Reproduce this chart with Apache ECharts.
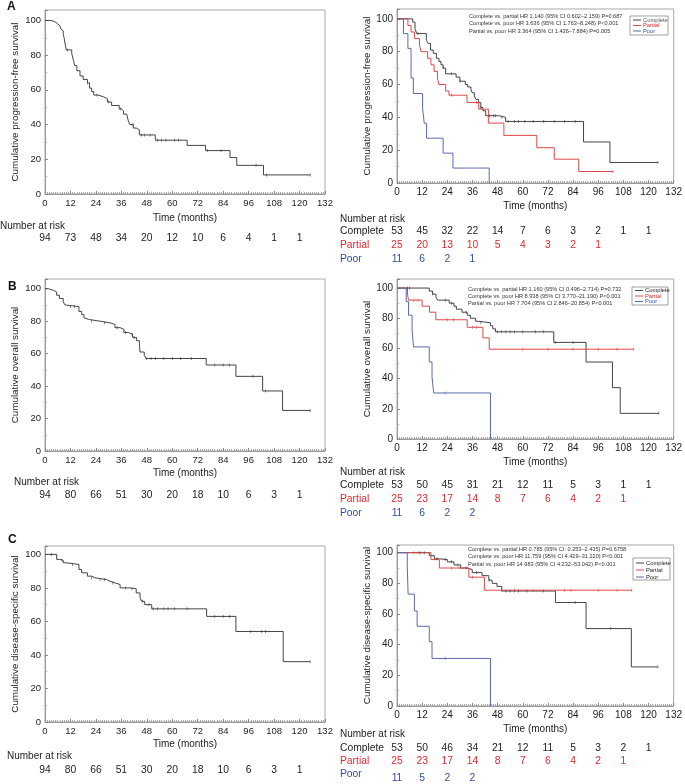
<!DOCTYPE html>
<html><head><meta charset="utf-8">
<script src="https://cdn.jsdelivr.net/npm/echarts@6/dist/echarts.min.js"></script>
<style>html,body{margin:0;padding:0;background:#fff}#c{width:685px;height:784px}</style>
</head><body><div id="c"></div>
<script>
// ---------------- DATA ----------------
const xTicks = [0,12,24,36,48,60,72,84,96,108,120,132];
const riskTimes = [0,12,24,36,48,60,72,84,96,108,120];

// Panel A (progression-free survival)
const pfsAll = [[0,100],[3,99],[5,98],[6,97],[7,96],[7.5,95],[8,94],[8.6,92],[9,90],[9.4,87],[10,83],[12.6,81],[13.4,77],[14,74],[15,71],[16.5,68],[18,66],[20,64],[21,61],[22,59],[23,57],[25,56],[27.5,55],[29.4,53],[31.4,51],[35,49],[36,48],[37,46],[38.5,45],[39.3,42],[40,40],[41.6,38],[43,37],[44.5,34],[52,31],[67,28],[75.7,25],[87.2,21],[90.4,16.5],[103,11],[125,11]];
const pfsAllCens = [10.5,20,24.5,30,35.5,41.5,45.5,47,49.5,53,55,57,61,63,76.5,83,99.5,104.5,125];
const pfsComp = [[0,100],[7.5,98],[8.6,94],[9.4,91],[14,87],[14.9,85],[16,81],[17.3,79],[18.8,76],[20,74],[21,72],[22,70],[23.2,66.5],[28.2,64.5],[30,62],[32.6,60],[33.7,58.5],[35.3,57],[35.8,55],[36.9,53],[37.6,51],[38.9,49],[40,46],[41,44],[42.3,41],[48.6,40],[51.8,37.5],[89,25],[101.6,12.5],[124.5,12.5]];
const pfsCompCens = [10,22,26,30,40,44,46,47,50,53,56,58,61,65,70,75,80,85,124.5];
const pfsPart = [[0,100],[5.2,96],[6.7,92],[8.3,88],[10.7,84],[11.5,80],[14.6,76],[16.2,72],[17.7,68],[19.3,64],[20,60],[23.2,56],[24.8,53.5],[33.4,49],[39,45],[43.6,36.5],[51,29],[66.7,21.5],[75,14.5],[86.7,7],[103,7]];
const pfsPartCens = [26,38,103];
const pfsPoor = [[0,100],[3.1,91],[5.2,82],[6.7,64],[7.8,54.5],[12.2,45.5],[13,36.4],[14.1,27.3],[22,18.2],[26.7,9.1],[44,0]];
const pfsPoorCens = [];

// Panel B (overall survival)
const osAll = [[0,100],[1.6,99],[4,98],[5.5,96],[6.8,94],[8.6,92],[9.4,90],[10,89],[16,86],[17.3,84],[18.4,82],[19.3,81],[21,80],[26,79],[30.6,78],[33,76],[35.4,75],[37.2,73],[39.3,72],[41.3,70],[43.2,68],[44.5,66],[44.8,61],[46.8,59],[47.6,57],[76,53],[90,46],[102.6,37],[112,25],[125,25]];
const osAllCens = [12,14,22,28,34,38,41,42,48,50,52,56,60,64,69,80,84,87,98,104,125];
const osComp = [[0,100],[15.4,98],[17,96],[18.6,94],[19.4,92],[24.9,90],[27.2,88],[28.3,86],[31,84],[33.5,82],[35,80],[37.5,78],[39,77],[44.6,75],[45.7,73],[47,71],[74.8,64],[90.2,51],[102.8,34],[106.5,17],[124.9,17]];
const osCompCens = [5,6,17,23,26,33,40,48,50,52,54,56,60,66,70,75.5,84,124.9];
const osPart = [[0,100],[5,96],[5.5,92],[12,88],[15.5,84],[18.5,79],[33.5,74],[41,67],[44,59.5],[112.8,59.5]];
const osPartCens = [8,10,24,27,36,38,60,72,84,96,105,112.8];
const osPoor = [[0,100],[4.4,91],[5.5,82],[7.2,72],[7.9,61],[15.4,51],[16.7,41],[17.5,30.5],[44.6,0]];
const osPoorCens = [23];

// Panel C (disease-specific survival)
const dssAll = [[0,100],[5.5,97],[7,96.5],[8.6,95],[10,94],[16,91],[17.3,89],[20,87],[22,86],[23.6,85],[29,84],[30.6,83],[33,82],[35.4,80],[40,79.5],[43,77],[44.8,74],[45.6,72],[47,70],[50.3,67.5],[76.2,63],[90,54],[112.3,36],[125,36]];
const dssAllCens = [3,8,13,22,26,28,32,38,41,46,49,51,53,56,58,61,67,80,84,87,97,102,104,125];
const dssComp = [[0,100],[15.4,98],[17.8,96],[20.2,95.5],[24,94],[27.2,92],[30.4,90],[33.5,89],[35.9,87],[40.6,85],[43.8,82],[45.4,80],[47.7,78],[50,75],[75.6,67.5],[90.2,50.5],[111.8,25.5],[124.5,25.5]];
const dssCompCens = [11,13,19,23,26,29,33,38,44,52,54,56,58,62,70,85,102,124.5];
const dssPart = [[0,100],[16.2,95.5],[20.2,90],[34.3,84],[41.7,75.5],[112,75.5]];
const dssPartCens = [8,10,26,30,36,50,56,65,80,83,96,105,112];
const dssPoor = [[0,100],[4.9,91],[5.3,73],[8.3,62],[9.6,52],[15.4,42],[16.7,31],[44.6,0]];
const dssPoorCens = [23];

// Number at risk
const riskA = [94,73,48,34,20,12,10,6,4,1,1];
const riskAComp = [53,45,32,22,14,7,6,3,2,1,1];
const riskAPart = [25,20,13,10,5,4,3,2,1];
const riskAPoor = [11,6,2,1];
const riskB = [94,80,66,51,30,20,18,10,6,3,1];
const riskBComp = [53,50,45,31,21,12,11,5,3,1,1];
const riskBPart = [25,23,17,14,8,7,6,4,2,1];
const riskBPoor = [11,6,2,2];
const riskC = [94,80,66,51,30,20,18,10,6,3,1];
const riskCComp = [53,50,46,34,21,12,11,5,3,2,1];
const riskCPart = [25,23,17,14,8,7,6,4,2,1];
const riskCPoor = [11,5,2,2];

const yNames = ['Cumulative progression-free survival','Cumulative overall survival','Cumulative disease-specific survival'];
const groupNames = ['Complete','Partial','Poor'];
const hrA = ['Complete vs. partial HR 1.140 (95% CI 0.602\u20132.159) P=0.687','Complete vs. poor HR 3.636 (95% CI 1.763\u20138.248) P<0.001','Partial vs. poor HR 3.364 (95% CI 1.436\u20137.884) P=0.005'];
const hrB = ['Complete vs. partial HR 1.160 (95% CI 0.496\u20132.714) P=0.732','Complete vs. poor HR 8.938 (95% CI 3.770\u201321.190) P<0.001','Partial vs. poor HR 7.704 (95% CI 2.846\u201320.854) P<0.001'];
const hrC = ['Complete vs. partial HR 0.785 (95% CI: 0.253\u20132.435) P=0.6758','Complete vs. poor HR 11.759 (95% CI 4.429\u201331.220) P<0.001','Partial vs. poor HR 14.983 (95% CI 4.232\u201353.042) P<0.001'];

// ---------------- LAYOUT / STYLE ----------------
const FONT = 'Liberation Sans, Arial, sans-serif';
const COL_K = '#444444', COL_R = '#e2474a', COL_B = '#5a69b3';
const TXT_R = '#e0282e', TXT_B = '#2f4f9f';

const panels = [
  {left:45,  top:10,  width:280, height:184, ymax:106, yName:yNames[0], lab:9.5, nameGap:19},
  {left:397, top:9,   width:277, height:174, ymax:106, yName:yNames[0], lab:10,  nameGap:18},
  {left:45,  top:279, width:280, height:172, ymax:106, yName:yNames[1], lab:9.5, nameGap:17},
  {left:397, top:279, width:277, height:160, ymax:106, yName:yNames[1], lab:10,  nameGap:18},
  {left:45,  top:546, width:280, height:176, ymax:105, yName:yNames[2], lab:9.5, nameGap:17},
  {left:397, top:545, width:277, height:161, ymax:105, yName:yNames[2], lab:10,  nameGap:18}
];

const curves = [
  [ {d:pfsAll, c:pfsAllCens, col:COL_K} ],
  [ {d:pfsComp, c:pfsCompCens, col:COL_K}, {d:pfsPart, c:pfsPartCens, col:COL_R}, {d:pfsPoor, c:pfsPoorCens, col:COL_B} ],
  [ {d:osAll, c:osAllCens, col:COL_K} ],
  [ {d:osComp, c:osCompCens, col:COL_K}, {d:osPart, c:osPartCens, col:COL_R}, {d:osPoor, c:osPoorCens, col:COL_B} ],
  [ {d:dssAll, c:dssAllCens, col:COL_K} ],
  [ {d:dssComp, c:dssCompCens, col:COL_K}, {d:dssPart, c:dssPartCens, col:COL_R}, {d:dssPoor, c:dssPoorCens, col:COL_B} ]
];

function survAt(curve, t){
  let s = curve[0][1];
  for (const p of curve){ if (p[0] <= t) s = p[1]; else break; }
  return s;
}

const grids = [], xAxes = [], yAxes = [], series = [];
panels.forEach((p,i)=>{
  grids.push({left:p.left, top:p.top, width:p.width, height:p.height, show:true, borderColor:'#a8a8a8', borderWidth:1, containLabel:false});
  xAxes.push({type:'value', gridIndex:i, min:0, max:132, interval:12,
    name:'Time (months)', nameLocation:'middle', nameGap:p.nameGap,
    nameTextStyle:{fontFamily:FONT, fontSize:10, color:'#222'},
    axisLine:{show:true, lineStyle:{color:'#999', width:1}},
    axisTick:{show:true, inside:true, length:3, lineStyle:{color:'#888'}},
    minorTick:{show:true, splitNumber:12, length:2, lineStyle:{color:'#aaa'}},
    splitLine:{show:false},
    axisLabel:{fontFamily:FONT, fontSize:p.lab, color:'#222', margin:4}});
  yAxes.push({type:'value', gridIndex:i, min:0, max:p.ymax, interval:20,
    name:p.yName, nameLocation:'middle', nameGap:25,
    nameTextStyle:{fontFamily:FONT, fontSize:9.8, color:'#222'},
    axisLine:{show:true, lineStyle:{color:'#999', width:1}},
    axisTick:{show:true, inside:true, length:3, lineStyle:{color:'#888'}},
    minorTick:{show:true, splitNumber:2, length:2, lineStyle:{color:'#aaa'}},
    splitLine:{show:false},
    axisLabel:{fontFamily:FONT, fontSize:p.lab, color:'#222', margin:4, showMaxLabel:false}});
  curves[i].forEach(cv=>{
    series.push({type:'line', xAxisIndex:i, yAxisIndex:i, data:cv.d, step:'end', showSymbol:false,
      lineStyle:{color:cv.col, width:1}, itemStyle:{color:cv.col}, animation:false, silent:true, z:3});
    if (cv.c.length) series.push({type:'scatter', xAxisIndex:i, yAxisIndex:i,
      data:cv.c.map(t=>[t, survAt(cv.d,t)]), symbol:'rect', symbolSize:[0.8,3],
      itemStyle:{color:cv.col, opacity:0.8}, animation:false, silent:true, z:4});
  });
});

const chart = echarts.init(document.getElementById('c'), null, {renderer:'canvas'});
chart.setOption({backgroundColor:'#fff', animation:false, grid:grids, xAxis:xAxes, yAxis:yAxes, series:series});

// ---------------- TEXT ELEMENTS ----------------
const g = [];
function txt(x,y,s,opt){
  opt = opt||{};
  g.push({type:'text', x:x, y:y, silent:true, style:{text:s, x:0, y:0,
    fill:opt.color||'#222', font:(opt.weight||'normal')+' '+(opt.size||10)+'px '+FONT,
    textAlign:opt.align||'left', textVerticalAlign:'middle'}});
}
function riskRow(gi, arr, y, color){
  arr.forEach((v,k)=>{
    const px = chart.convertToPixel({xAxisIndex:gi}, riskTimes[k]);
    txt(px, y, String(v), {align:'center', color:color, size:10.3});
  });
}
// panel letters
txt(7, 7, 'A', {weight:'bold', size:12, color:'#111'});
txt(8, 287, 'B', {weight:'bold', size:12, color:'#111'});
txt(8, 540, 'C', {weight:'bold', size:12, color:'#111'});

// left tables
txt(0, 226, 'Number at risk'); riskRow(0, riskA, 238, '#222');
txt(14, 482, 'Number at risk'); riskRow(2, riskB, 495, '#222');
txt(7, 756, 'Number at risk'); riskRow(4, riskC, 770, '#222');

// right tables
function rightTable(gi, y0, yc, yp, ypo, comp, part, poor, ypoNum){
  txt(340, y0, 'Number at risk');
  txt(340, yc, groupNames[0], {size:10.3});
  txt(340, yp, groupNames[1], {color:TXT_R, size:10.3});
  txt(340, ypo, groupNames[2], {color:TXT_B, size:10.3});
  riskRow(gi, comp, yc, '#222');
  riskRow(gi, part, yp, TXT_R);
  riskRow(gi, poor, ypoNum, TXT_B);
}
rightTable(1, 219, 231, 245, 259, riskAComp, riskAPart, riskAPoor, 259);
rightTable(3, 472, 485, 499, 513, riskBComp, riskBPart, riskBPoor, 513);
rightTable(5, 734, 748, 761, 774, riskCComp, riskCPart, riskCPoor, 778);

// HR annotations
function hr(x, ys, lines){ lines.forEach((s,k)=>txt(x, ys[k], s, {size:5.6, color:'#333'})); }
hr(469, [16, 23.5, 31], hrA);
hr(468, [289, 296, 303], hrB);
hr(468, [549, 556.5, 564], hrC);

// legends
function legend(x0, y0, w, h, ys, txtCols){
  g.push({type:'rect', silent:true, shape:{x:x0, y:y0, width:w, height:h}, style:{fill:'#fff', stroke:'#888', lineWidth:0.8}, z:10});
  const cols = [COL_K, COL_R, COL_B];
  ys.forEach((yy,k)=>{
    g.push({type:'line', silent:true, shape:{x1:x0+3, y1:yy, x2:x0+11, y2:yy}, style:{stroke:cols[k], lineWidth:1}, z:11});
    g.push({type:'text', silent:true, x:x0+13, y:yy, z:11, style:{text:groupNames[k], x:0, y:0, fill:txtCols[k], font:'5.8px '+FONT, textVerticalAlign:'middle'}});
  });
}
legend(630, 16, 38, 19, [20, 25.5, 31], ['#555', TXT_R, TXT_B]);
legend(632, 287, 36, 18, [290.5, 296, 301.5], ['#222', TXT_R, TXT_B]);
legend(633, 558, 37, 22, [563, 570, 577], ['#222', '#222', '#222']);

chart.setOption({graphic:{elements:g}});
</script></body></html>
